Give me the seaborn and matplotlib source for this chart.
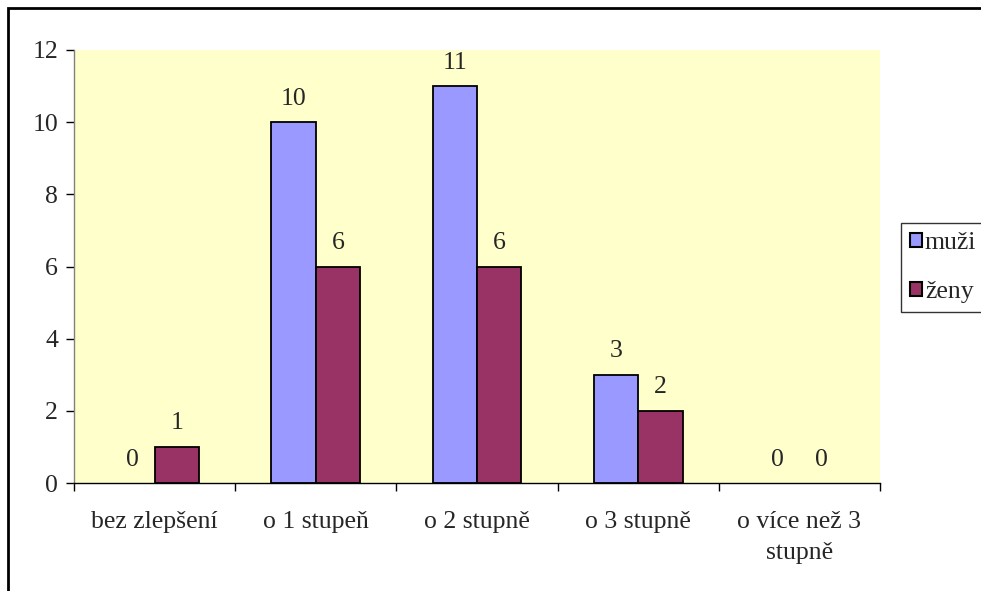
import matplotlib
matplotlib.use("Agg")
import matplotlib.pyplot as plt
from matplotlib.patches import Rectangle
import seaborn as sns
import pandas as pd
import numpy as np

categories = ["bez zlepšení", "o 1 stupeň", "o 2 stupně", "o 3 stupně", "o více než 3\nstupně"]
muzi = [0, 10, 11, 3, 0]
zeny = [1, 6, 6, 2, 0]
series_names = ["muži", "ženy"]
y_ticks = [0, 2, 4, 6, 8, 10, 12]

df = pd.DataFrame({
    "kategorie": categories * 2,
    "pocet": muzi + zeny,
    "pohlavi": [series_names[0]] * len(categories) + [series_names[1]] * len(categories),
})

sns.set_style("white")
plt.rcParams["font.family"] = ["Liberation Serif", "DejaVu Serif"]
FS = 18.5

fig = plt.figure(figsize=(9.81, 5.91), dpi=100)
ax = fig.add_axes([74 / 981, 1 - 483 / 591, (880 - 74) / 981, (483 - 50) / 591])
ax.set_facecolor("#FFFFCC")

sns.barplot(data=df, x="kategorie", y="pocet", hue="pohlavi", order=categories,
            hue_order=series_names, palette=["#9999FF", "#993366"], saturation=1,
            width=0.55, gap=0, edgecolor="black", linewidth=1.3, ax=ax, legend=True)

for cont in ax.containers:
    for rect in cont:
        h = rect.get_height()
        if h == 0:
            rect.set_linewidth(0)
        ax.annotate(f"{int(h)}", (rect.get_x() + rect.get_width() / 2, h),
                    xytext=(0, 9), textcoords="offset points",
                    ha="center", va="bottom", fontsize=FS)

ax.set_xlim(-0.5, len(categories) - 0.5)
ax.set_ylim(0, 12)
ax.set_yticks(y_ticks)
ax.set_xlabel("")
ax.set_ylabel("")

ax.set_xticks(np.arange(len(categories) + 1) - 0.5, minor=True)
ax.tick_params(axis="x", which="major", length=0, pad=20, labelsize=FS)
ax.tick_params(axis="x", which="minor", length=6, width=1, color="black", direction="out", bottom=True)
ax.tick_params(axis="y", length=6, width=1, color="black", direction="out", left=True, pad=5.5, labelsize=FS)
for lbl in ax.get_xticklabels():
    lbl.set_linespacing(1.55)

for s in ["top", "right"]:
    ax.spines[s].set_visible(False)
ax.spines["left"].set_color("#808080")
ax.spines["bottom"].set_color("black")
ax.spines["left"].set_linewidth(1)
ax.spines["bottom"].set_linewidth(1)

handles, labels = ax.get_legend_handles_labels()
ax.legend_.remove()
leg = fig.legend(handles, labels, loc="upper left", bbox_to_anchor=(901 / 981, 1 - 223 / 591),
                 frameon=True, fancybox=False, edgecolor="black", fontsize=FS,
                 handlelength=0.45, handleheight=0.45, handletextpad=0.12,
                 labelspacing=1.05, borderpad=0.36, borderaxespad=0)
leg.get_frame().set_linewidth(1)
for h in leg.legend_handles:
    h.set_edgecolor("black")
    h.set_linewidth(1.5)

fig.patches.append(Rectangle((8 / 981, -0.2), 1.2, 1.2 - 8 / 591, transform=fig.transFigure,
                             fill=False, edgecolor="black", linewidth=2))

fig.savefig("out.png", dpi=100)
